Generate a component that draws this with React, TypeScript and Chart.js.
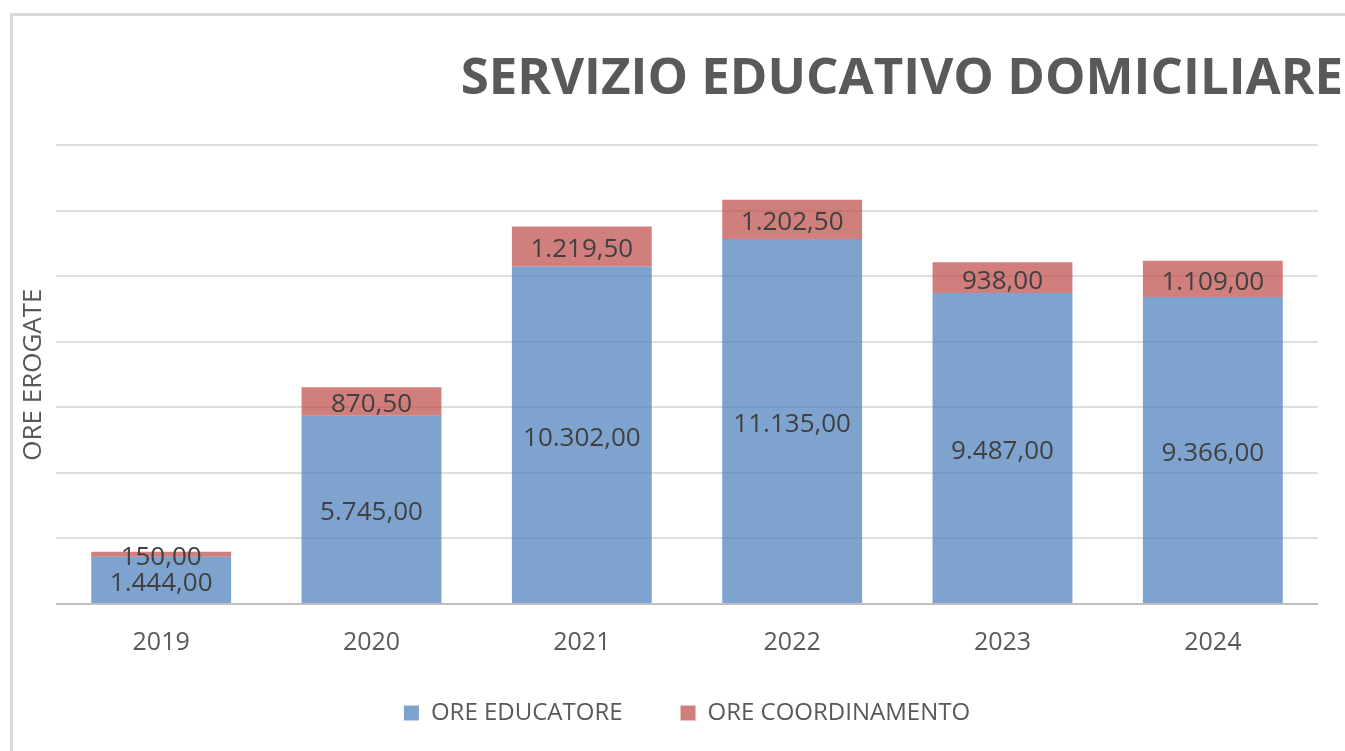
import React, { useEffect, useRef } from "react";
import { Chart, registerables } from "chart.js";

Chart.register(...registerables);

const TITLE = "SERVIZIO EDUCATIVO DOMICILIARE";
const Y_TITLE = "ORE EROGATE";
const YEARS = ["2019", "2020", "2021", "2022", "2023", "2024"];
const ORE_EDUCATORE = [1444, 5745, 10302, 11135, 9487, 9366];
const ORE_COORDINAMENTO = [150, 870.5, 1219.5, 1202.5, 938, 1109];
const SERIES_NAMES = ["ORE EDUCATORE", "ORE COORDINAMENTO"];
const Y_MAX = 14000;
const Y_STEP = 2000;

const FONT = "'Open Sans', 'Noto Sans', sans-serif";

function fmt(v: number): string {
  const [i, d] = v.toFixed(2).split(".");
  return i.replace(/\B(?=(\d{3})+(?!\d))/g, ".") + "," + d;
}

const segLabels = {
  id: "segLabels",
  afterDatasetsDraw(chart: any) {
    const ctx = chart.ctx;
    ctx.save();
    ctx.font = `26px ${FONT}`;
    ctx.fillStyle = "#404040";
    ctx.textAlign = "center";
    ctx.textBaseline = "middle";
    chart.data.datasets.forEach((ds: any, di: number) => {
      const meta = chart.getDatasetMeta(di);
      meta.data.forEach((el: any, i: number) => {
        const { x, y, base } = el.getProps(["x", "y", "base"], true);
        ctx.fillText(fmt(ds.data[i]), x, (y + base) / 2 + 3.5);
      });
    });
    ctx.restore();
  },
};

const shiftBoxes = {
  id: "shiftBoxes",
  afterLayout(chart: any) {
    const t = chart.titleBlock;
    if (t) {
      t.left += 25;
      t.right += 25;
    }
    const l = chart.legend;
    if (l) {
      l.left += 28;
      l.right += 28;
    }
    const xs = chart.scales && chart.scales.x;
    if (xs) {
      // let the category labels overflow the (short) axis box instead of being clipped
      xs.bottom = chart.height;
    }
  },
};

export default function App() {
  const ref = useRef<HTMLCanvasElement | null>(null);

  useEffect(() => {
    if (!ref.current) return;
    const chart = new Chart(ref.current, {
      type: "bar",
      data: {
        labels: YEARS,
        datasets: [
          {
            label: SERIES_NAMES[0],
            data: ORE_EDUCATORE,
            backgroundColor: "rgba(79,129,189,0.73)",
            borderWidth: 0,
            barPercentage: 0.665,
            categoryPercentage: 1,
          },
          {
            label: SERIES_NAMES[1],
            data: ORE_COORDINAMENTO,
            backgroundColor: "rgba(192,80,77,0.73)",
            borderWidth: 0,
            barPercentage: 0.665,
            categoryPercentage: 1,
          },
        ],
      },
      options: {
        responsive: false,
        animation: false,
        devicePixelRatio: 1,
        layout: { padding: { left: 0, right: 27, top: 0, bottom: 16 } },
        plugins: {
          title: {
            display: true,
            text: TITLE,
            align: "end",
            color: "#595959",
            font: { family: FONT, size: 51, weight: "bold", lineHeight: 1.2 },
            padding: { top: 49, bottom: 35 },
          },
          legend: {
            position: "bottom",
            labels: {
              boxWidth: 15,
              boxHeight: 15,
              padding: 58,
              color: "#595959",
              font: { family: FONT, size: 24 },
            },
          },
          tooltip: { enabled: false },
        },
        scales: {
          x: {
            stacked: true,
            grid: { display: false, drawTicks: false },
            border: { display: false },
            ticks: {
              color: "#595959",
              font: { family: FONT, size: 25 },
              padding: 24,
            },
            afterFit: (s: any) => {
              s.height = 39;
            },
          },
          y: {
            stacked: true,
            min: 0,
            max: Y_MAX,
            ticks: { display: false, stepSize: Y_STEP },
            grid: {
              drawTicks: false,
              color: (c: any) => (c.tick && c.tick.value === 0 ? "#bfbfbf" : "#dedede"),
              lineWidth: 2,
            },
            border: { display: false },
            title: {
              display: true,
              text: Y_TITLE,
              color: "#595959",
              font: { family: FONT, size: 26, lineHeight: 1.2 },
              padding: { top: 18, bottom: 0 },
            },
            afterFit: (s: any) => {
              s.width = 56;
            },
          },
        },
      },
      plugins: [segLabels, shiftBoxes],
    } as any);
    return () => chart.destroy();
  }, []);

  return (
    <div
      style={{
        position: "fixed",
        left: 0,
        top: 0,
        width: 1345,
        height: 751,
        overflow: "hidden",
        background: "#ffffff",
      }}
    >
      <div
        style={{
          position: "absolute",
          left: 10,
          top: 13,
          width: 1400,
          height: 800,
          border: "3px solid #d9d9d9",
          boxSizing: "border-box",
        }}
      />
      <canvas
        ref={ref}
        width={1345}
        height={751}
        style={{ position: "absolute", left: 0, top: 0, width: 1345, height: 751 }}
      />
    </div>
  );
}
